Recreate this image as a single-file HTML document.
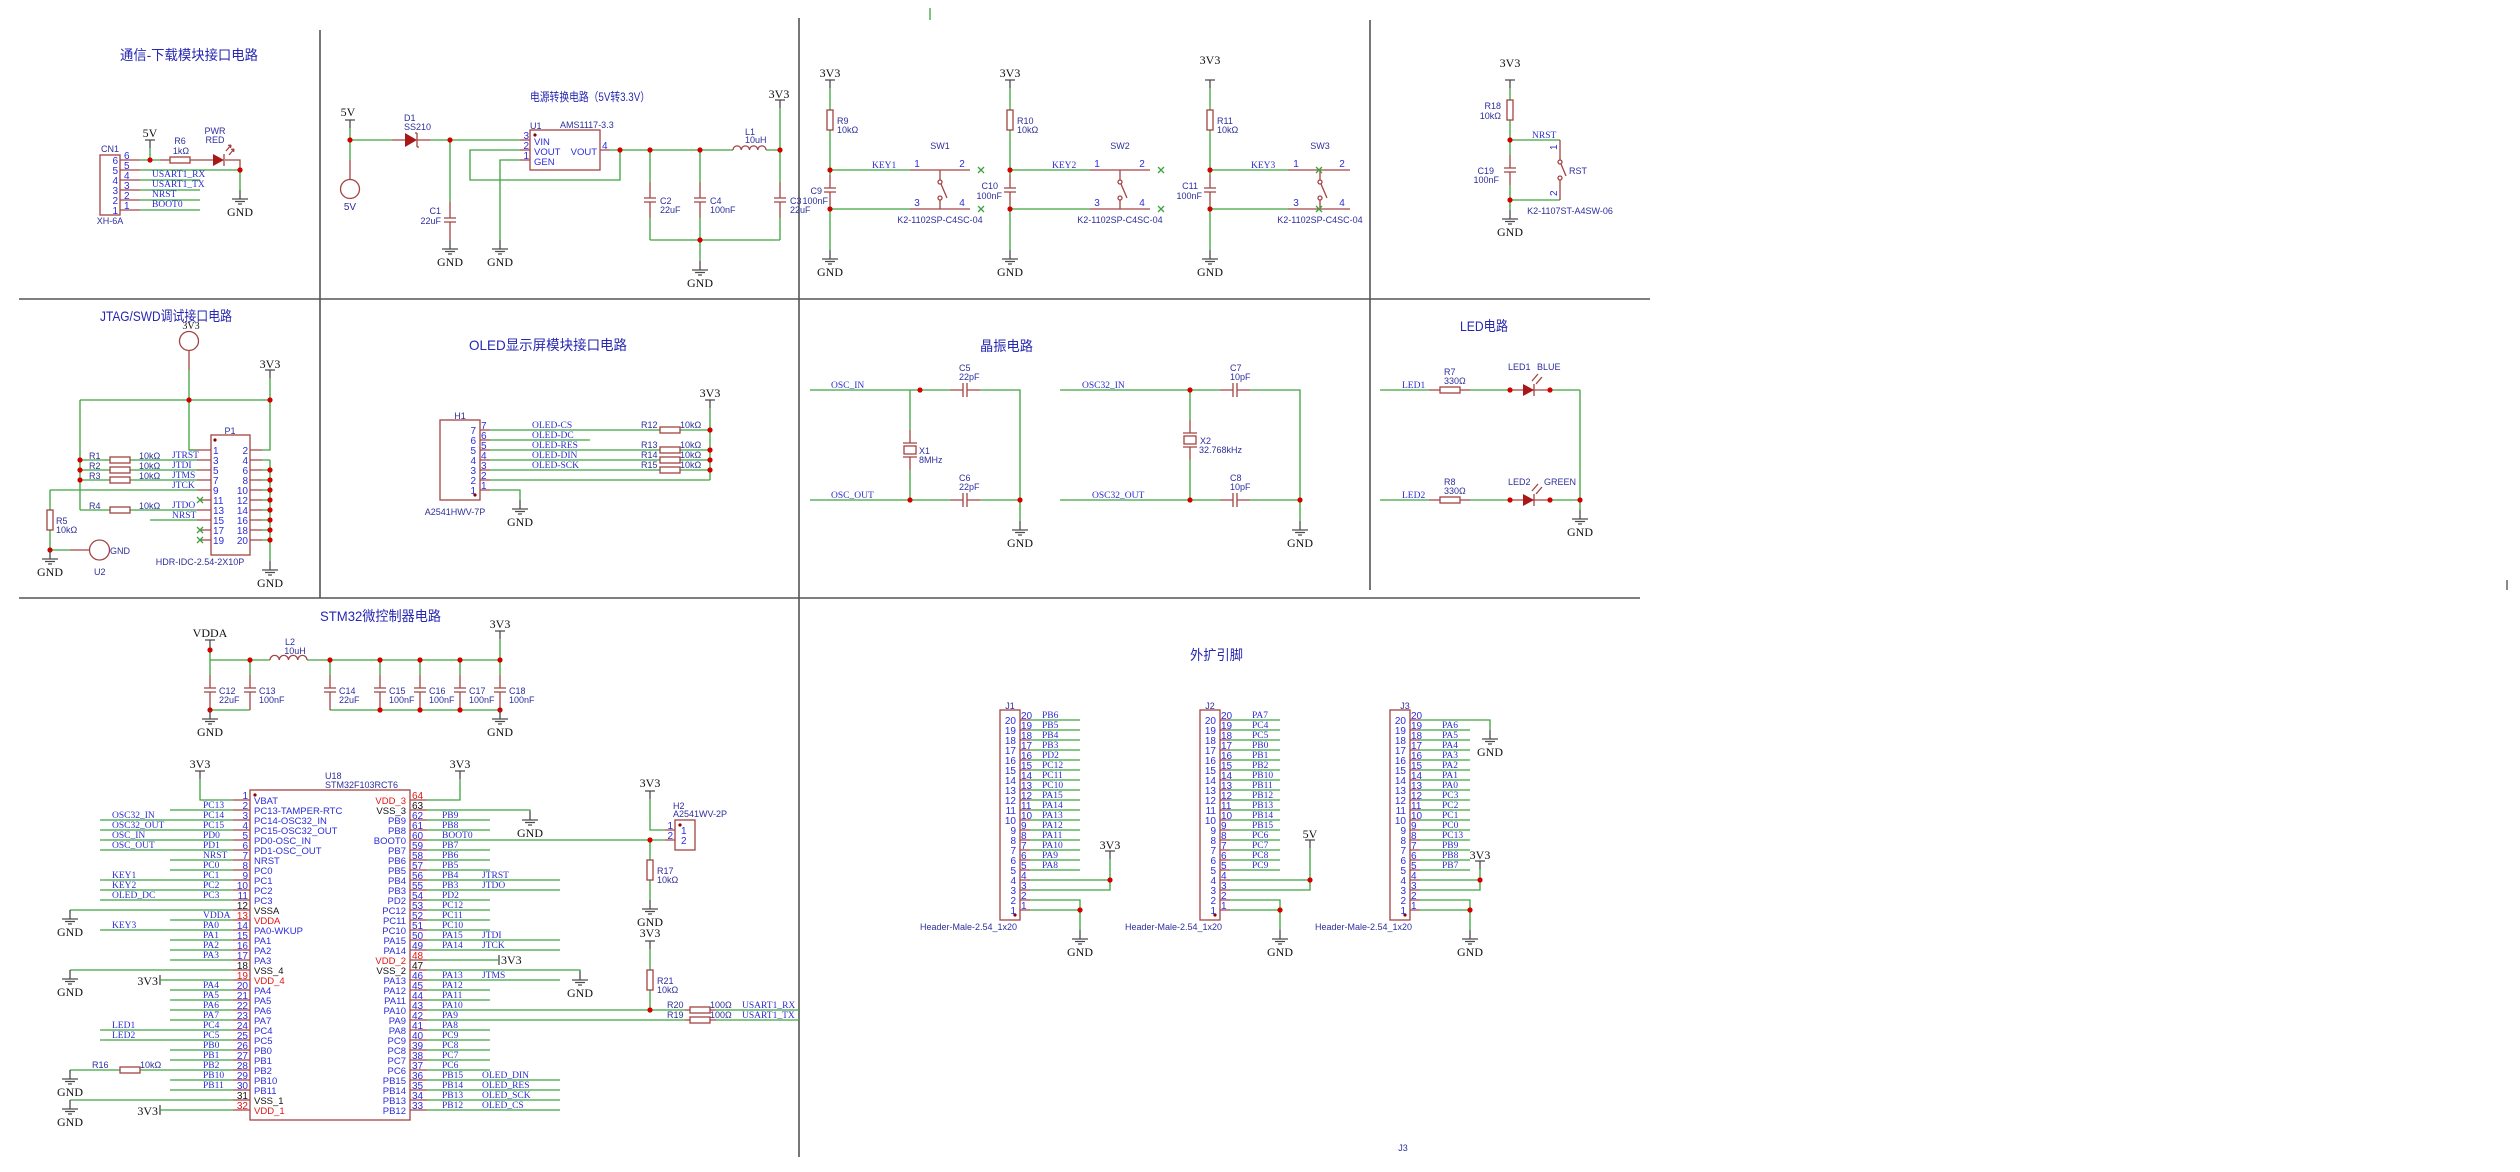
<!DOCTYPE html>
<html><head><meta charset="utf-8"><style>
html,body{margin:0;padding:0;background:#fff;}
svg{display:block}
text{font-family:"Liberation Sans","Noto Sans CJK SC",sans-serif;}
.T{font-size:14px;fill:#2727b2}
.N{font-family:"Liberation Serif",serif;font-size:9.5px;fill:#2c2cd4}
.P{font-size:10px;fill:#2c2cdc}
.C{font-size:9px;fill:#2e2e9e}
.G{font-family:"Liberation Serif",serif;font-size:12px;fill:#111}
.I{font-size:9.5px;fill:#2c2cdc}
.R{fill:#e41414}
.K{fill:#111}
.m{text-anchor:middle}.e{text-anchor:end}
.w{stroke:#3da33d;stroke-width:1.3;fill:none}
.d{stroke:#a34343;stroke-width:1.3;fill:none}
.x{stroke:#4a4a4a;stroke-width:1.3;fill:none}
.v{stroke:#555;stroke-width:1.6;fill:none}
.j{fill:#d40000}
.f{fill:#a81818}
</style></head><body>
<svg width="2520" height="1172" viewBox="0 0 2520 1172" xmlns="http://www.w3.org/2000/svg">
<defs>
<g id="G" class="x"><path d="M0 0V9M-8 9H8M-5 11.5H5M-2 14H2"/></g>
<g id="X"><path class="w" d="M-3 -3L3 3M-3 3L3 -3"/></g>
</defs>
<rect width="2520" height="1172" fill="#fff"/>

<!-- dividers -->
<path class="v" d="M320 30V598M799 18V1157M1370 20V590M19 299H1650M19 598H1640"/>
<path class="w" d="M930 8V20"/>
<path class="x" d="M2507 580V590"/>

<!-- ===== Section 1: CN1 ===== -->
<text class="T" x="120" y="60" textLength="138" lengthAdjust="spacingAndGlyphs">通信-下载模块接口电路</text>
<rect class="d" x="100" y="155" width="20" height="60"/>
<text class="C m" x="110" y="152">CN1</text>
<text class="C m" x="110" y="224">XH-6A</text>
<text class="P e" x="118" y="164">6</text><text class="P e" x="118" y="174">5</text><text class="P e" x="118" y="184">4</text><text class="P e" x="118" y="194">3</text><text class="P e" x="118" y="204">2</text><text class="P e" x="118" y="214">1</text>
<text class="P" x="124" y="159">6</text><text class="P" x="124" y="169">5</text><text class="P" x="124" y="179">4</text><text class="P" x="124" y="189">3</text><text class="P" x="124" y="199">2</text><text class="P" x="124" y="209">1</text>
<path class="d" d="M120 160H140M120 170H140M120 180H140M120 190H140M120 200H140M120 210H140M160 160H170M190 160H213M225 160H240V170"/>
<rect class="d" x="170" y="157" width="20" height="6"/>
<path class="w" d="M140 160H160M150 148V160M140 170H240M240 170V190M140 180H200M140 190H200M140 200H200M140 210H200"/>
<path class="x" d="M145 140H155M150 140V148"/>
<polygon class="f" points="213,154 213,166 224,160"/>
<path class="d" d="M224 154V166M226 151l5 -6M229 155l5 -6M231 145l-3 0.5M231 145l-0.5 3M234 149l-3 0.5M234 149l-0.5 3"/>
<circle class="j" cx="150" cy="160" r="2.6"/><circle class="j" cx="240" cy="170" r="2.6"/>
<use href="#G" x="240" y="190"/><text class="G m" x="240" y="216">GND</text>
<text class="G m" x="150" y="137">5V</text>
<text class="C m" x="180" y="144">R6</text><text class="C m" x="181" y="154">1kΩ</text>
<text class="C m" x="215" y="134">PWR</text><text class="C m" x="215" y="143">RED</text>
<text class="N" x="152" y="177">USART1_RX</text><text class="N" x="152" y="187">USART1_TX</text><text class="N" x="152" y="197">NRST</text><text class="N" x="152" y="207">BOOT0</text>

<!-- ===== Section 2: Power ===== -->
<text class="T" x="530" y="101" style="font-size:12px" textLength="120" lengthAdjust="spacingAndGlyphs">电源转换电路（5V转3.3V）</text>
<path class="x" d="M345 120H355M350 120V128"/>
<text class="G m" x="348" y="116">5V</text>
<path class="w" d="M350 128V160M350 140H392M430 140H520M450 140V202M520 150H470V180H620V150M520 160H500V240M610 150H733M766 150H780M780 108V182M780 218V240M650 150V182M650 218V240M700 150V182M700 218V240M650 240H780M700 240V261"/>
<path class="d" d="M350 160V179.5M392 140H405M417 140H430M520 140H530M520 150H530M520 160H530M600 150H610M450 202V218M444 218H456M444 222H456M450 222V240M650 182V198M644 198H656M644 202H656M650 202V218M700 182V198M694 198H706M694 202H706M700 202V218M780 182V198M774 198H786M774 202H786M780 202V218"/>
<circle class="d" cx="350" cy="189" r="9.5"/>
<text class="C m" x="350" y="210" style="font-size:10px">5V</text>
<polygon class="f" points="405,133 405,147 417,140"/>
<path class="d" d="M417 133V147M417 133h-2M417 147h2"/>
<text class="C" x="404" y="121">D1</text><text class="C" x="404" y="130">SS210</text>
<text class="C e" x="441" y="214">C1</text><text class="C e" x="441" y="224">22uF</text>
<use href="#G" x="450" y="240"/><text class="G m" x="450" y="266">GND</text>
<use href="#G" x="500" y="240"/><text class="G m" x="500" y="266">GND</text>
<rect class="d" x="530" y="130" width="70" height="40"/>
<circle cx="535" cy="135" r="1.6" fill="#8b0000"/>
<text class="C" x="530" y="129">U1</text><text class="C" x="560" y="128">AMS1117-3.3</text>
<text class="I" x="534" y="145">VIN</text><text class="I" x="534" y="155">VOUT</text><text class="I" x="534" y="165">GEN</text><text class="I e" x="597" y="155">VOUT</text>
<text class="P e" x="529" y="139">3</text><text class="P e" x="529" y="149">2</text><text class="P e" x="529" y="159">1</text><text class="P" x="602" y="149">4</text>
<path class="d" d="M733 150a4.125 4.125 0 0 1 8.25 0a4.125 4.125 0 0 1 8.25 0a4.125 4.125 0 0 1 8.25 0a4.125 4.125 0 0 1 8.25 0"/>
<text class="C" x="745" y="135">L1</text><text class="C" x="745" y="143">10uH</text>
<path class="x" d="M775 100H785M780 100V108"/>
<text class="G m" x="779" y="98">3V3</text>
<text class="C" x="660" y="204">C2</text><text class="C" x="660" y="213">22uF</text>
<text class="C" x="710" y="204">C4</text><text class="C" x="710" y="213">100nF</text>
<text class="C" x="790" y="204">C3</text><text class="C" x="790" y="213">22uF</text>
<use href="#G" x="700" y="261"/><text class="G m" x="700" y="287">GND</text>
<circle class="j" cx="350" cy="140" r="2.6"/><circle class="j" cx="450" cy="140" r="2.6"/><circle class="j" cx="620" cy="150" r="2.6"/><circle class="j" cx="650" cy="150" r="2.6"/><circle class="j" cx="700" cy="150" r="2.6"/><circle class="j" cx="780" cy="150" r="2.6"/><circle class="j" cx="700" cy="240" r="2.6"/>

<!-- ===== Section 3: Keys ===== -->
<!-- SW1 x0=830 -->
<path class="x" d="M825 80H835M830 80V88M1005 80H1015M1010 80V88M1205 80H1215M1210 80V88M1505 80H1515M1510 80V88"/>
<text class="G m" x="830" y="77">3V3</text><text class="G m" x="1010" y="77">3V3</text><text class="G m" x="1210" y="64">3V3</text><text class="G m" x="1510" y="67">3V3</text>
<path class="w" d="M830 88V110M830 130V175M830 205V250M830 170H910M830 209H910M1010 88V110M1010 130V175M1010 205V250M1010 170H1090M1010 209H1090M1210 88V110M1210 130V175M1210 205V250M1210 170H1288M1210 209H1288"/>
<path class="d" d="M830 175V188M824 188H836M824 192H836M830 192V205M910 170H970M910 209H970M1010 175V188M1004 188H1016M1004 192H1016M1010 192V205M1090 170H1150M1090 209H1150M1210 175V188M1204 188H1216M1204 192H1216M1210 192V205M1288 170H1350M1288 209H1350"/>
<rect class="d" x="827" y="110" width="6" height="20"/><rect class="d" x="1007" y="110" width="6" height="20"/><rect class="d" x="1207" y="110" width="6" height="20"/>
<!-- switches -->
<path class="d" d="M940 170V180M941 184L947 198M940 200V209M1120 170V180M1121 184L1127 198M1120 200V209M1320 170V180M1321 184L1327 198M1320 200V209"/>
<circle class="d" cx="940" cy="182" r="2"/><circle class="d" cx="940" cy="198" r="2"/>
<circle class="d" cx="1120" cy="182" r="2"/><circle class="d" cx="1120" cy="198" r="2"/>
<circle class="d" cx="1320" cy="182" r="2"/><circle class="d" cx="1320" cy="198" r="2"/>
<use href="#X" x="981" y="170"/><use href="#X" x="981" y="209"/><use href="#X" x="1161" y="170"/><use href="#X" x="1161" y="209"/><use href="#X" x="1319" y="170"/><use href="#X" x="1319" y="209"/>
<circle class="j" cx="830" cy="170" r="2.6"/><circle class="j" cx="830" cy="209" r="2.6"/><circle class="j" cx="1010" cy="170" r="2.6"/><circle class="j" cx="1010" cy="209" r="2.6"/><circle class="j" cx="1210" cy="170" r="2.6"/><circle class="j" cx="1210" cy="209" r="2.6"/>
<use href="#G" x="830" y="250"/><text class="G m" x="830" y="276">GND</text>
<use href="#G" x="1010" y="250"/><text class="G m" x="1010" y="276">GND</text>
<use href="#G" x="1210" y="250"/><text class="G m" x="1210" y="276">GND</text>
<text class="C" x="837" y="124">R9</text><text class="C" x="837" y="133">10kΩ</text>
<text class="C" x="1017" y="124">R10</text><text class="C" x="1017" y="133">10kΩ</text>
<text class="C" x="1217" y="124">R11</text><text class="C" x="1217" y="133">10kΩ</text>
<text class="C e" x="822" y="194">C9</text><text class="C e" x="828" y="204">100nF</text>
<text class="C e" x="998" y="189">C10</text><text class="C e" x="1002" y="199">100nF</text>
<text class="C e" x="1198" y="189">C11</text><text class="C e" x="1202" y="199">100nF</text>
<text class="N" x="872" y="168">KEY1</text><text class="N" x="1052" y="168">KEY2</text><text class="N" x="1251" y="168">KEY3</text>
<text class="P m" x="917" y="167">1</text><text class="P m" x="962" y="167">2</text><text class="P m" x="917" y="206">3</text><text class="P m" x="962" y="206">4</text>
<text class="P m" x="1097" y="167">1</text><text class="P m" x="1142" y="167">2</text><text class="P m" x="1097" y="206">3</text><text class="P m" x="1142" y="206">4</text>
<text class="P m" x="1296" y="167">1</text><text class="P m" x="1342" y="167">2</text><text class="P m" x="1296" y="206">3</text><text class="P m" x="1342" y="206">4</text>
<text class="C m" x="940" y="149">SW1</text><text class="C m" x="1120" y="149">SW2</text><text class="C m" x="1320" y="149">SW3</text>
<text class="C m" x="940" y="223">K2-1102SP-C4SC-04</text><text class="C m" x="1120" y="223">K2-1102SP-C4SC-04</text><text class="C m" x="1320" y="223">K2-1102SP-C4SC-04</text>
<!-- RST -->
<path class="w" d="M1510 88V100M1510 120V155M1510 185V210M1510 140H1560M1560 200H1510"/>
<path class="d" d="M1510 155V168M1504 168H1516M1504 172H1516M1510 172V185M1560 140V160M1561 164L1566 176M1560 180V200"/>
<rect class="d" x="1507" y="100" width="6" height="20"/>
<circle class="d" cx="1560" cy="162" r="2"/><circle class="d" cx="1560" cy="178" r="2"/>
<circle class="j" cx="1510" cy="140" r="2.6"/><circle class="j" cx="1510" cy="200" r="2.6"/>
<use href="#G" x="1510" y="210"/><text class="G m" x="1510" y="236">GND</text>
<text class="C e" x="1501" y="109">R18</text><text class="C e" x="1501" y="119">10kΩ</text>
<text class="C e" x="1494" y="174">C19</text><text class="C e" x="1499" y="183">100nF</text>
<text class="N" x="1532" y="138">NRST</text>
<text class="C" x="1569" y="174">RST</text>
<text class="P" transform="translate(1557,150) rotate(-90)">1</text>
<text class="P" transform="translate(1557,196) rotate(-90)">2</text>
<text class="C m" x="1570" y="214">K2-1107ST-A4SW-06</text>

<!-- ===== Section 4: JTAG ===== -->
<text class="T" x="100" y="321" textLength="132" lengthAdjust="spacingAndGlyphs">JTAG/SWD调试接口电路</text>
<circle class="d" cx="189" cy="341" r="9.5"/>
<text class="G m" x="191" y="329" style="font-size:10px">3V3</text>
<path class="d" d="M189 350.5V370M189 450H197M197 460H211M197 470H211M197 480H211M197 490H211M200 500H211M197 510H211M197 520H211M200 530H211M200 540H211M197 450H211M262 450H250M250 460H262M250 470H262M250 480H262M250 490H262M250 500H262M250 510H262M250 520H262M250 530H262M250 540H262M70 550H89.5"/>
<path class="w" d="M189 370V450H197M80 400H270M270 378V450H262M262 460H270M262 470H270M262 480H270M262 490H270M262 500H270M262 510H270M262 520H270M262 530H270M262 540H270M270 460V561M80 400V510M80 460H110M130 460H197M80 470H110M130 470H197M80 480H110M130 480H197M80 510H110M130 510H197M50 490H197M50 490V510M50 530V550M50 550H70M150 520H197"/>
<path class="x" d="M265 370H275M270 370V378"/>
<text class="G m" x="270" y="368">3V3</text>
<rect class="d" x="211" y="435" width="39" height="120"/>
<circle cx="215" cy="440" r="1.6" fill="#8b0000"/>
<text class="C m" x="230" y="434">P1</text>
<text class="P" x="213" y="454">1</text><text class="P" x="213" y="464">3</text><text class="P" x="213" y="474">5</text><text class="P" x="213" y="484">7</text><text class="P" x="213" y="494">9</text><text class="P" x="213" y="504">11</text><text class="P" x="213" y="514">13</text><text class="P" x="213" y="524">15</text><text class="P" x="213" y="534">17</text><text class="P" x="213" y="544">19</text>
<text class="P e" x="248" y="454">2</text><text class="P e" x="248" y="464">4</text><text class="P e" x="248" y="474">6</text><text class="P e" x="248" y="484">8</text><text class="P e" x="248" y="494">10</text><text class="P e" x="248" y="504">12</text><text class="P e" x="248" y="514">14</text><text class="P e" x="248" y="524">16</text><text class="P e" x="248" y="534">18</text><text class="P e" x="248" y="544">20</text>
<rect class="d" x="110" y="457" width="20" height="6"/><rect class="d" x="110" y="467" width="20" height="6"/><rect class="d" x="110" y="477" width="20" height="6"/><rect class="d" x="110" y="507" width="20" height="6"/>
<rect class="d" x="47" y="510" width="6" height="20"/>
<circle class="d" cx="99.5" cy="550" r="10"/>
<use href="#X" x="200" y="500"/><use href="#X" x="200" y="530"/><use href="#X" x="200" y="540"/>
<circle class="j" cx="189" cy="400" r="2.6"/><circle class="j" cx="270" cy="400" r="2.6"/>
<circle class="j" cx="270" cy="470" r="2.6"/><circle class="j" cx="270" cy="480" r="2.6"/><circle class="j" cx="270" cy="490" r="2.6"/><circle class="j" cx="270" cy="500" r="2.6"/><circle class="j" cx="270" cy="510" r="2.6"/><circle class="j" cx="270" cy="520" r="2.6"/><circle class="j" cx="270" cy="530" r="2.6"/><circle class="j" cx="270" cy="540" r="2.6"/>
<circle class="j" cx="80" cy="460" r="2.6"/><circle class="j" cx="80" cy="470" r="2.6"/><circle class="j" cx="80" cy="480" r="2.6"/><circle class="j" cx="50" cy="550" r="2.6"/>
<use href="#G" x="270" y="561"/><text class="G m" x="270" y="587">GND</text>
<use href="#G" x="50" y="550"/><text class="G m" x="50" y="576">GND</text>
<text class="C" x="89" y="459">R1</text><text class="C" x="89" y="469">R2</text><text class="C" x="89" y="479">R3</text><text class="C" x="89" y="509">R4</text>
<text class="C" x="139" y="459">10kΩ</text><text class="C" x="139" y="469">10kΩ</text><text class="C" x="139" y="479">10kΩ</text><text class="C" x="139" y="509">10kΩ</text>
<text class="N" x="172" y="458">JTRST</text><text class="N" x="172" y="468">JTDI</text><text class="N" x="172" y="478">JTMS</text><text class="N" x="172" y="488">JTCK</text><text class="N" x="172" y="508">JTDO</text><text class="N" x="172" y="518">NRST</text>
<text class="C" x="56" y="524">R5</text><text class="C" x="56" y="533">10kΩ</text>
<text class="C" x="110" y="554">GND</text><text class="C" x="94" y="575">U2</text>
<text class="C m" x="200" y="565">HDR-IDC-2.54-2X10P</text>

<!-- ===== Section 5: OLED ===== -->
<text class="T" x="469" y="350" textLength="158" lengthAdjust="spacingAndGlyphs">OLED显示屏模块接口电路</text>
<rect class="d" x="440" y="420" width="40" height="80"/>
<circle cx="475" cy="495" r="1.6" fill="#8b0000"/>
<text class="C m" x="460" y="419">H1</text>
<text class="P e" x="476" y="434">7</text><text class="P e" x="476" y="444">6</text><text class="P e" x="476" y="454">5</text><text class="P e" x="476" y="464">4</text><text class="P e" x="476" y="474">3</text><text class="P e" x="476" y="484">2</text><text class="P e" x="476" y="494">1</text>
<text class="P" x="481" y="429">7</text><text class="P" x="481" y="439">6</text><text class="P" x="481" y="449">5</text><text class="P" x="481" y="459">4</text><text class="P" x="481" y="469">3</text><text class="P" x="481" y="479">2</text><text class="P" x="481" y="489">1</text>
<path class="d" d="M480 430H490M480 440H490M480 450H490M480 460H490M480 470H490M480 480H490M480 490H490"/>
<path class="w" d="M490 430H660M680 430H710M490 440H590M490 450H660M680 450H710M490 460H660M680 460H710M490 470H660M680 470H710M490 480H710M490 490H520V500M710 408V480"/>
<rect class="d" x="660" y="427" width="20" height="6"/><rect class="d" x="660" y="447" width="20" height="6"/><rect class="d" x="660" y="457" width="20" height="6"/><rect class="d" x="660" y="467" width="20" height="6"/>
<path class="x" d="M705 400H715M710 400V408"/>
<text class="G m" x="710" y="397">3V3</text>
<circle class="j" cx="710" cy="430" r="2.6"/><circle class="j" cx="710" cy="450" r="2.6"/><circle class="j" cx="710" cy="460" r="2.6"/><circle class="j" cx="710" cy="470" r="2.6"/>
<use href="#G" x="520" y="500"/><text class="G m" x="520" y="526">GND</text>
<text class="N" x="532" y="428">OLED-CS</text><text class="N" x="532" y="438">OLED-DC</text><text class="N" x="532" y="448">OLED-RES</text><text class="N" x="532" y="458">OLED-DIN</text><text class="N" x="532" y="468">OLED-SCK</text>
<text class="C" x="641" y="428">R12</text><text class="C" x="680" y="428">10kΩ</text>
<text class="C" x="641" y="448">R13</text><text class="C" x="680" y="448">10kΩ</text>
<text class="C" x="641" y="458">R14</text><text class="C" x="680" y="458">10kΩ</text>
<text class="C" x="641" y="468">R15</text><text class="C" x="680" y="468">10kΩ</text>
<text class="C m" x="455" y="515">A2541HWV-7P</text>

<!-- ===== Section 6: Crystal ===== -->
<text class="T" x="980" y="351" textLength="53" lengthAdjust="spacingAndGlyphs">晶振电路</text>
<path class="w" d="M810 390H950M980 390H1020V521M810 500H950M980 500H1020M910 390V430M910 470V500M1060 390H1220M1250 390H1300V521M1060 500H1220M1250 500H1300M1190 390V420M1190 460V500"/>
<path class="d" d="M950 390H963M963 383V397M967 383V397M967 390H980M950 500H963M963 493V507M967 493V507M967 500H980M910 430V443M903 443H917M903 457H917M910 457V470M1220 390H1233M1233 383V397M1237 383V397M1237 390H1250M1220 500H1233M1233 493V507M1237 493V507M1237 500H1250M1190 420V433M1183 433H1197M1183 447H1197M1190 447V460"/>
<rect class="d" x="904" y="446" width="12" height="8"/><rect class="d" x="1184" y="436" width="12" height="8"/>
<circle class="j" cx="920" cy="390" r="2.6"/><circle class="j" cx="910" cy="500" r="2.6"/><circle class="j" cx="1020" cy="500" r="2.6"/><circle class="j" cx="1190" cy="390" r="2.6"/><circle class="j" cx="1190" cy="500" r="2.6"/><circle class="j" cx="1300" cy="500" r="2.6"/>
<use href="#G" x="1020" y="521"/><text class="G m" x="1020" y="547">GND</text>
<use href="#G" x="1300" y="521"/><text class="G m" x="1300" y="547">GND</text>
<text class="N" x="831" y="388">OSC_IN</text><text class="N" x="831" y="498">OSC_OUT</text>
<text class="N" x="1082" y="388">OSC32_IN</text><text class="N" x="1092" y="498">OSC32_OUT</text>
<text class="C" x="959" y="371">C5</text><text class="C" x="959" y="380">22pF</text>
<text class="C" x="959" y="481">C6</text><text class="C" x="959" y="490">22pF</text>
<text class="C" x="919" y="454">X1</text><text class="C" x="919" y="463">8MHz</text>
<text class="C" x="1230" y="371">C7</text><text class="C" x="1230" y="380">10pF</text>
<text class="C" x="1230" y="481">C8</text><text class="C" x="1230" y="490">10pF</text>
<text class="C" x="1200" y="444">X2</text><text class="C" x="1199" y="453">32.768kHz</text>

<!-- ===== Section 7: LED ===== -->
<text class="T" x="1460" y="331" textLength="48" lengthAdjust="spacingAndGlyphs">LED电路</text>
<path class="w" d="M1380 390H1429M1470 390H1510M1550 390H1580M1380 500H1429M1470 500H1510M1550 500H1580M1580 390V510"/>
<path class="d" d="M1429 390H1440M1460 390H1470M1510 390H1550M1429 500H1440M1460 500H1470M1510 500H1550M1534 384V396M1534 494V506M1532 381l6 -7M1536 384l6 -7M1532 491l6 -7M1536 494l6 -7"/>
<rect class="d" x="1440" y="387" width="20" height="6"/><rect class="d" x="1440" y="497" width="20" height="6"/>
<polygon class="f" points="1523,384 1523,396 1534,390"/><polygon class="f" points="1523,494 1523,506 1534,500"/>
<circle class="j" cx="1510" cy="390" r="2.6"/><circle class="j" cx="1550" cy="390" r="2.6"/><circle class="j" cx="1510" cy="500" r="2.6"/><circle class="j" cx="1550" cy="500" r="2.6"/><circle class="j" cx="1580" cy="500" r="2.6"/>
<use href="#G" x="1580" y="510"/><text class="G m" x="1580" y="536">GND</text>
<text class="N" x="1402" y="388">LED1</text><text class="N" x="1402" y="498">LED2</text>
<text class="C" x="1444" y="375">R7</text><text class="C" x="1444" y="384">330Ω</text>
<text class="C" x="1444" y="485">R8</text><text class="C" x="1444" y="494">330Ω</text>
<text class="C" x="1508" y="370">LED1</text><text class="C" x="1537" y="370">BLUE</text>
<text class="C" x="1508" y="485">LED2</text><text class="C" x="1544" y="485">GREEN</text>

<!-- ===== Section 8: STM32 ===== -->
<text class="T" x="320" y="621" textLength="121" lengthAdjust="spacingAndGlyphs">STM32微控制器电路</text>
<path class="x" d="M205 640H215M210 640V648M495 631H505M500 631V639"/>
<text class="G m" x="210" y="637">VDDA</text><text class="G m" x="500" y="628">3V3</text>
<path class="w" d="M210 648V660M210 660H270M307 660H500M500 639V660M210 660V675M250 660V675M330 660V675M380 660V675M420 660V675M460 660V675M500 660V675M210 710H250M330 710H500"/>
<path class="d" d="M270 660a4.625 4.625 0 0 1 9.25 0a4.625 4.625 0 0 1 9.25 0a4.625 4.625 0 0 1 9.25 0a4.625 4.625 0 0 1 9.25 0M210 675V688M204 688H216M204 692H216M210 692V710M250 675V688M244 688H256M244 692H256M250 692V710M330 675V688M324 688H336M324 692H336M330 692V710M380 675V688M374 688H386M374 692H386M380 692V710M420 675V688M414 688H426M414 692H426M420 692V710M460 675V688M454 688H466M454 692H466M460 692V710M500 675V688M494 688H506M494 692H506M500 692V710"/>
<circle class="j" cx="210" cy="650" r="2.6"/><circle class="j" cx="250" cy="660" r="2.6"/><circle class="j" cx="330" cy="660" r="2.6"/><circle class="j" cx="380" cy="660" r="2.6"/><circle class="j" cx="420" cy="660" r="2.6"/><circle class="j" cx="460" cy="660" r="2.6"/><circle class="j" cx="500" cy="660" r="2.6"/>
<circle class="j" cx="210" cy="710" r="2.6"/><circle class="j" cx="380" cy="710" r="2.6"/><circle class="j" cx="420" cy="710" r="2.6"/><circle class="j" cx="460" cy="710" r="2.6"/><circle class="j" cx="500" cy="710" r="2.6"/>
<use href="#G" x="210" y="710"/><text class="G m" x="210" y="736">GND</text>
<use href="#G" x="500" y="710"/><text class="G m" x="500" y="736">GND</text>
<text class="C m" x="290" y="645">L2</text><text class="C m" x="295" y="654">10uH</text>
<text class="C" x="219" y="694">C12</text><text class="C" x="219" y="703">22uF</text>
<text class="C" x="259" y="694">C13</text><text class="C" x="259" y="703">100nF</text>
<text class="C" x="339" y="694">C14</text><text class="C" x="339" y="703">22uF</text>
<text class="C" x="389" y="694">C15</text><text class="C" x="389" y="703">100nF</text>
<text class="C" x="429" y="694">C16</text><text class="C" x="429" y="703">100nF</text>
<text class="C" x="469" y="694">C17</text><text class="C" x="469" y="703">100nF</text>
<text class="C" x="509" y="694">C18</text><text class="C" x="509" y="703">100nF</text>

<!-- chip -->
<rect class="d" x="250" y="790" width="160" height="330"/>
<circle cx="255" cy="795" r="1.6" fill="#8b0000"/>
<text class="C" x="325" y="779">U18</text><text class="C" x="325" y="788">STM32F103RCT6</text>
<path class="x" d="M195 771H205M200 771V779M455 771H465M460 771V779M160 975V985M160 1105V1115M499 955V965M645 791H655M650 791V799M645 941H655M650 941V949"/>
<text class="G m" x="200" y="768">3V3</text><text class="G m" x="460" y="768">3V3</text>
<text class="G e" x="158" y="985">3V3</text><text class="G e" x="158" y="1115">3V3</text>
<text class="G" x="501" y="964">3V3</text>
<text class="G m" x="650" y="787">3V3</text><text class="G m" x="650" y="937">3V3</text>
<!-- pin stubs -->
<path class="d" d="M233 800H250M233 810H250M233 820H250M233 830H250M233 840H250M233 850H250M233 860H250M233 870H250M233 880H250M233 890H250M233 900H250M233 910H250M233 920H250M233 930H250M233 940H250M233 950H250M233 960H250M233 970H250M233 980H250M233 990H250M233 1000H250M233 1010H250M233 1020H250M233 1030H250M233 1040H250M233 1050H250M233 1060H250M233 1070H250M233 1080H250M233 1090H250M233 1100H250M233 1110H250M410 800H427M410 810H427M410 820H427M410 830H427M410 840H427M410 850H427M410 860H427M410 870H427M410 880H427M410 890H427M410 900H427M410 910H427M410 920H427M410 930H427M410 940H427M410 950H427M410 960H427M410 970H427M410 980H427M410 990H427M410 1000H427M410 1010H427M410 1020H427M410 1030H427M410 1040H427M410 1050H427M410 1060H427M410 1070H427M410 1080H427M410 1090H427M410 1100H427M410 1110H427"/>
<!-- left wires -->
<path class="w" d="M200 779V800H233M170 810H233M100 820H233M100 830H233M100 840H233M100 850H233M170 860H233M170 870H233M100 880H233M100 890H233M100 900H233M70 910H233M170 920H233M100 930H233M170 940H233M170 950H233M170 960H233M70 970H233M160 980H233M170 990H233M170 1000H233M170 1010H233M170 1020H233M100 1030H233M100 1040H233M170 1050H233M170 1060H233M70 1070H120M140 1070H233M170 1080H233M170 1090H233M70 1100H233M160 1110H233"/>
<rect class="d" x="120" y="1067" width="20" height="6"/>
<use href="#G" x="70" y="910"/><text class="G m" x="70" y="936">GND</text>
<use href="#G" x="70" y="970"/><text class="G m" x="70" y="996">GND</text>
<use href="#G" x="70" y="1070"/><text class="G m" x="70" y="1096">GND</text>
<use href="#G" x="70" y="1100"/><text class="G m" x="70" y="1126">GND</text>
<text class="C" x="92" y="1068">R16</text><text class="C" x="140" y="1068">10kΩ</text>
<!-- left pin numbers -->
<text class="P e" x="248" y="799">1</text><text class="P e" x="248" y="809">2</text><text class="P e" x="248" y="819">3</text><text class="P e" x="248" y="829">4</text><text class="P e" x="248" y="839">5</text><text class="P e" x="248" y="849">6</text><text class="P e" x="248" y="859">7</text><text class="P e" x="248" y="869">8</text><text class="P e" x="248" y="879">9</text><text class="P e" x="248" y="889">10</text><text class="P e" x="248" y="899">11</text><text class="P e K" x="248" y="909">12</text><text class="P e R" x="248" y="919">13</text><text class="P e" x="248" y="929">14</text><text class="P e" x="248" y="939">15</text><text class="P e" x="248" y="949">16</text><text class="P e" x="248" y="959">17</text><text class="P e K" x="248" y="969">18</text><text class="P e R" x="248" y="979">19</text><text class="P e" x="248" y="989">20</text><text class="P e" x="248" y="999">21</text><text class="P e" x="248" y="1009">22</text><text class="P e" x="248" y="1019">23</text><text class="P e" x="248" y="1029">24</text><text class="P e" x="248" y="1039">25</text><text class="P e" x="248" y="1049">26</text><text class="P e" x="248" y="1059">27</text><text class="P e" x="248" y="1069">28</text><text class="P e" x="248" y="1079">29</text><text class="P e" x="248" y="1089">30</text><text class="P e K" x="248" y="1099">31</text><text class="P e R" x="248" y="1109">32</text>
<!-- left pin names -->
<text class="I" x="254" y="804">VBAT</text><text class="I" x="254" y="814">PC13-TAMPER-RTC</text><text class="I" x="254" y="824">PC14-OSC32_IN</text><text class="I" x="254" y="834">PC15-OSC32_OUT</text><text class="I" x="254" y="844">PD0-OSC_IN</text><text class="I" x="254" y="854">PD1-OSC_OUT</text><text class="I" x="254" y="864">NRST</text><text class="I" x="254" y="874">PC0</text><text class="I" x="254" y="884">PC1</text><text class="I" x="254" y="894">PC2</text><text class="I" x="254" y="904">PC3</text><text class="I K" x="254" y="914">VSSA</text><text class="I R" x="254" y="924">VDDA</text><text class="I" x="254" y="934">PA0-WKUP</text><text class="I" x="254" y="944">PA1</text><text class="I" x="254" y="954">PA2</text><text class="I" x="254" y="964">PA3</text><text class="I K" x="254" y="974">VSS_4</text><text class="I R" x="254" y="984">VDD_4</text><text class="I" x="254" y="994">PA4</text><text class="I" x="254" y="1004">PA5</text><text class="I" x="254" y="1014">PA6</text><text class="I" x="254" y="1024">PA7</text><text class="I" x="254" y="1034">PC4</text><text class="I" x="254" y="1044">PC5</text><text class="I" x="254" y="1054">PB0</text><text class="I" x="254" y="1064">PB1</text><text class="I" x="254" y="1074">PB2</text><text class="I" x="254" y="1084">PB10</text><text class="I" x="254" y="1094">PB11</text><text class="I K" x="254" y="1104">VSS_1</text><text class="I R" x="254" y="1114">VDD_1</text>
<!-- right pin numbers -->
<text class="P R" x="412" y="799">64</text><text class="P K" x="412" y="809">63</text><text class="P" x="412" y="819">62</text><text class="P" x="412" y="829">61</text><text class="P" x="412" y="839">60</text><text class="P" x="412" y="849">59</text><text class="P" x="412" y="859">58</text><text class="P" x="412" y="869">57</text><text class="P" x="412" y="879">56</text><text class="P" x="412" y="889">55</text><text class="P" x="412" y="899">54</text><text class="P" x="412" y="909">53</text><text class="P" x="412" y="919">52</text><text class="P" x="412" y="929">51</text><text class="P" x="412" y="939">50</text><text class="P" x="412" y="949">49</text><text class="P R" x="412" y="959">48</text><text class="P K" x="412" y="969">47</text><text class="P" x="412" y="979">46</text><text class="P" x="412" y="989">45</text><text class="P" x="412" y="999">44</text><text class="P" x="412" y="1009">43</text><text class="P" x="412" y="1019">42</text><text class="P" x="412" y="1029">41</text><text class="P" x="412" y="1039">40</text><text class="P" x="412" y="1049">39</text><text class="P" x="412" y="1059">38</text><text class="P" x="412" y="1069">37</text><text class="P" x="412" y="1079">36</text><text class="P" x="412" y="1089">35</text><text class="P" x="412" y="1099">34</text><text class="P" x="412" y="1109">33</text>
<!-- right pin names -->
<text class="I e R" x="406" y="804">VDD_3</text><text class="I e K" x="406" y="814">VSS_3</text><text class="I e" x="406" y="824">PB9</text><text class="I e" x="406" y="834">PB8</text><text class="I e" x="406" y="844">BOOT0</text><text class="I e" x="406" y="854">PB7</text><text class="I e" x="406" y="864">PB6</text><text class="I e" x="406" y="874">PB5</text><text class="I e" x="406" y="884">PB4</text><text class="I e" x="406" y="894">PB3</text><text class="I e" x="406" y="904">PD2</text><text class="I e" x="406" y="914">PC12</text><text class="I e" x="406" y="924">PC11</text><text class="I e" x="406" y="934">PC10</text><text class="I e" x="406" y="944">PA15</text><text class="I e" x="406" y="954">PA14</text><text class="I e R" x="406" y="964">VDD_2</text><text class="I e K" x="406" y="974">VSS_2</text><text class="I e" x="406" y="984">PA13</text><text class="I e" x="406" y="994">PA12</text><text class="I e" x="406" y="1004">PA11</text><text class="I e" x="406" y="1014">PA10</text><text class="I e" x="406" y="1024">PA9</text><text class="I e" x="406" y="1034">PA8</text><text class="I e" x="406" y="1044">PC9</text><text class="I e" x="406" y="1054">PC8</text><text class="I e" x="406" y="1064">PC7</text><text class="I e" x="406" y="1074">PC6</text><text class="I e" x="406" y="1084">PB15</text><text class="I e" x="406" y="1094">PB14</text><text class="I e" x="406" y="1104">PB13</text><text class="I e" x="406" y="1114">PB12</text>
<!-- left net labels -->
<text class="N" x="203" y="808">PC13</text>
<text class="N" x="112" y="818">OSC32_IN</text><text class="N" x="203" y="818">PC14</text>
<text class="N" x="112" y="828">OSC32_OUT</text><text class="N" x="203" y="828">PC15</text>
<text class="N" x="112" y="838">OSC_IN</text><text class="N" x="203" y="838">PD0</text>
<text class="N" x="112" y="848">OSC_OUT</text><text class="N" x="203" y="848">PD1</text>
<text class="N" x="203" y="858">NRST</text><text class="N" x="203" y="868">PC0</text>
<text class="N" x="112" y="878">KEY1</text><text class="N" x="203" y="878">PC1</text>
<text class="N" x="112" y="888">KEY2</text><text class="N" x="203" y="888">PC2</text>
<text class="N" x="112" y="898">OLED_DC</text><text class="N" x="203" y="898">PC3</text>
<text class="N" x="203" y="918">VDDA</text>
<text class="N" x="112" y="928">KEY3</text><text class="N" x="203" y="928">PA0</text>
<text class="N" x="203" y="938">PA1</text><text class="N" x="203" y="948">PA2</text><text class="N" x="203" y="958">PA3</text>
<text class="N" x="203" y="988">PA4</text><text class="N" x="203" y="998">PA5</text><text class="N" x="203" y="1008">PA6</text><text class="N" x="203" y="1018">PA7</text>
<text class="N" x="112" y="1028">LED1</text><text class="N" x="203" y="1028">PC4</text>
<text class="N" x="112" y="1038">LED2</text><text class="N" x="203" y="1038">PC5</text>
<text class="N" x="203" y="1048">PB0</text><text class="N" x="203" y="1058">PB1</text><text class="N" x="203" y="1068">PB2</text>
<text class="N" x="203" y="1078">PB10</text><text class="N" x="203" y="1088">PB11</text>
<!-- right wires -->
<path class="w" d="M427 800H460V779M427 810H530V811M427 820H490M427 830H490M427 840H665M427 850H490M427 860H490M427 870H490M427 880H560M427 890H560M427 900H490M427 910H490M427 920H490M427 930H490M427 940H560M427 950H560M427 960H499M427 970H580V971M427 980H560M427 990H490M427 1000H490M427 1010H685M716 1010H800M427 1020H685M716 1020H800M427 1030H490M427 1040H490M427 1050H490M427 1060H490M427 1070H490M427 1080H560M427 1090H560M427 1100H560M427 1110H560"/>
<use href="#G" x="530" y="811"/><text class="G m" x="530" y="837">GND</text>
<use href="#G" x="580" y="971"/><text class="G m" x="580" y="997">GND</text>
<text class="N" x="442" y="818">PB9</text><text class="N" x="442" y="828">PB8</text><text class="N" x="442" y="838">BOOT0</text><text class="N" x="442" y="848">PB7</text><text class="N" x="442" y="858">PB6</text><text class="N" x="442" y="868">PB5</text><text class="N" x="442" y="878">PB4</text><text class="N" x="442" y="888">PB3</text><text class="N" x="442" y="898">PD2</text><text class="N" x="442" y="908">PC12</text><text class="N" x="442" y="918">PC11</text><text class="N" x="442" y="928">PC10</text><text class="N" x="442" y="938">PA15</text><text class="N" x="442" y="948">PA14</text><text class="N" x="442" y="978">PA13</text><text class="N" x="442" y="988">PA12</text><text class="N" x="442" y="998">PA11</text><text class="N" x="442" y="1008">PA10</text><text class="N" x="442" y="1018">PA9</text><text class="N" x="442" y="1028">PA8</text><text class="N" x="442" y="1038">PC9</text><text class="N" x="442" y="1048">PC8</text><text class="N" x="442" y="1058">PC7</text><text class="N" x="442" y="1068">PC6</text><text class="N" x="442" y="1078">PB15</text><text class="N" x="442" y="1088">PB14</text><text class="N" x="442" y="1098">PB13</text><text class="N" x="442" y="1108">PB12</text>
<text class="N" x="482" y="878">JTRST</text><text class="N" x="482" y="888">JTDO</text><text class="N" x="482" y="938">JTDI</text><text class="N" x="482" y="948">JTCK</text><text class="N" x="482" y="978">JTMS</text><text class="N" x="482" y="1078">OLED_DIN</text><text class="N" x="482" y="1088">OLED_RES</text><text class="N" x="482" y="1098">OLED_SCK</text><text class="N" x="482" y="1108">OLED_CS</text>
<!-- H2, R17, R21, R19, R20 -->
<path class="w" d="M650 799V830H665M650 840V860M650 880V900M650 949V970M650 990V1010"/>
<path class="d" d="M665 830H675M665 840H675M685 1010H690M710 1010H716M685 1020H690M710 1020H716"/>
<rect class="d" x="675" y="820" width="20" height="30"/>
<circle cx="680" cy="825" r="1.6" fill="#8b0000"/>
<rect class="d" x="647" y="860" width="6" height="20"/><rect class="d" x="647" y="970" width="6" height="20"/>
<rect class="d" x="690" y="1007" width="20" height="6"/><rect class="d" x="690" y="1017" width="20" height="6"/>
<circle class="j" cx="650" cy="840" r="2.6"/><circle class="j" cx="650" cy="1010" r="2.6"/>
<use href="#G" x="650" y="900"/><text class="G m" x="650" y="926">GND</text>
<text class="C" x="673" y="809">H2</text><text class="C" x="673" y="817">A2541WV-2P</text>
<text class="P" x="681" y="834">1</text><text class="P" x="681" y="844">2</text>
<text class="P e" x="673" y="829">1</text><text class="P e" x="673" y="839">2</text>
<text class="C" x="657" y="874">R17</text><text class="C" x="657" y="883">10kΩ</text>
<text class="C" x="657" y="984">R21</text><text class="C" x="657" y="993">10kΩ</text>
<text class="C" x="667" y="1008">R20</text><text class="C" x="710" y="1008">100Ω</text>
<text class="C" x="667" y="1018">R19</text><text class="C" x="710" y="1018">100Ω</text>
<text class="N" x="742" y="1008">USART1_RX</text><text class="N" x="742" y="1018">USART1_TX</text>

<!-- ===== Section 9: Headers ===== -->
<text class="T" x="1190" y="660" textLength="53" lengthAdjust="spacingAndGlyphs">外扩引脚</text>
<rect class="d" x="1000" y="710" width="20" height="210"/><rect class="d" x="1200" y="710" width="20" height="210"/><rect class="d" x="1390" y="710" width="20" height="210"/>
<circle cx="1015" cy="915" r="1.6" fill="#8b0000"/><circle cx="1215" cy="915" r="1.6" fill="#8b0000"/><circle cx="1405" cy="915" r="1.6" fill="#8b0000"/>
<text class="C m" x="1010" y="709">J1</text><text class="C m" x="1210" y="709">J2</text><text class="C m" x="1405" y="709">J3</text>
<text class="C m" x="1403" y="1151">J3</text>
<text class="C" x="920" y="930">Header-Male-2.54_1x20</text><text class="C" x="1125" y="930">Header-Male-2.54_1x20</text><text class="C" x="1315" y="930">Header-Male-2.54_1x20</text>
<path class="d" d="M1020 720H1030M1020 730H1030M1020 740H1030M1020 750H1030M1020 760H1030M1020 770H1030M1020 780H1030M1020 790H1030M1020 800H1030M1020 810H1030M1020 820H1030M1020 830H1030M1020 840H1030M1020 850H1030M1020 860H1030M1020 870H1030M1020 880H1030M1020 890H1030M1020 900H1030M1020 910H1030M1220 720H1230M1220 730H1230M1220 740H1230M1220 750H1230M1220 760H1230M1220 770H1230M1220 780H1230M1220 790H1230M1220 800H1230M1220 810H1230M1220 820H1230M1220 830H1230M1220 840H1230M1220 850H1230M1220 860H1230M1220 870H1230M1220 880H1230M1220 890H1230M1220 900H1230M1220 910H1230M1410 720H1420M1410 730H1420M1410 740H1420M1410 750H1420M1410 760H1420M1410 770H1420M1410 780H1420M1410 790H1420M1410 800H1420M1410 810H1420M1410 820H1420M1410 830H1420M1410 840H1420M1410 850H1420M1410 860H1420M1410 870H1420M1410 880H1420M1410 890H1420M1410 900H1420M1410 910H1420"/>
<path class="w" d="M1030 720H1080M1030 730H1080M1030 740H1080M1030 750H1080M1030 760H1080M1030 770H1080M1030 780H1080M1030 790H1080M1030 800H1080M1030 810H1080M1030 820H1080M1030 830H1080M1030 840H1080M1030 850H1080M1030 860H1080M1030 870H1080M1030 880H1110M1030 890H1110V859M1030 900H1080V930M1030 910H1080M1230 720H1280M1230 730H1280M1230 740H1280M1230 750H1280M1230 760H1280M1230 770H1280M1230 780H1280M1230 790H1280M1230 800H1280M1230 810H1280M1230 820H1280M1230 830H1280M1230 840H1280M1230 850H1280M1230 860H1280M1230 870H1280M1230 880H1310M1230 890H1310V848M1230 900H1280V930M1230 910H1280M1420 720H1490V730M1420 730H1470M1420 740H1470M1420 750H1470M1420 760H1470M1420 770H1470M1420 780H1470M1420 790H1470M1420 800H1470M1420 810H1470M1420 820H1470M1420 830H1470M1420 840H1470M1420 850H1470M1420 860H1470M1420 870H1470M1420 880H1480M1420 890H1480V869M1420 900H1470V930M1420 910H1470"/>
<path class="x" d="M1105 851H1115M1110 851V859M1305 840H1315M1310 840V848M1475 861H1485M1480 861V869"/>
<text class="G m" x="1110" y="849">3V3</text><text class="G m" x="1310" y="838">5V</text><text class="G m" x="1480" y="859">3V3</text>
<circle class="j" cx="1110" cy="880" r="2.6"/><circle class="j" cx="1080" cy="910" r="2.6"/><circle class="j" cx="1310" cy="880" r="2.6"/><circle class="j" cx="1280" cy="910" r="2.6"/><circle class="j" cx="1480" cy="880" r="2.6"/><circle class="j" cx="1470" cy="910" r="2.6"/>
<use href="#G" x="1080" y="930"/><text class="G m" x="1080" y="956">GND</text>
<use href="#G" x="1280" y="930"/><text class="G m" x="1280" y="956">GND</text>
<use href="#G" x="1470" y="930"/><text class="G m" x="1470" y="956">GND</text>
<use href="#G" x="1490" y="730"/><text class="G m" x="1490" y="756">GND</text>
<!-- J1 numbers -->
<text class="P e" x="1016" y="724">20</text><text class="P e" x="1016" y="734">19</text><text class="P e" x="1016" y="744">18</text><text class="P e" x="1016" y="754">17</text><text class="P e" x="1016" y="764">16</text><text class="P e" x="1016" y="774">15</text><text class="P e" x="1016" y="784">14</text><text class="P e" x="1016" y="794">13</text><text class="P e" x="1016" y="804">12</text><text class="P e" x="1016" y="814">11</text><text class="P e" x="1016" y="824">10</text><text class="P e" x="1016" y="834">9</text><text class="P e" x="1016" y="844">8</text><text class="P e" x="1016" y="854">7</text><text class="P e" x="1016" y="864">6</text><text class="P e" x="1016" y="874">5</text><text class="P e" x="1016" y="884">4</text><text class="P e" x="1016" y="894">3</text><text class="P e" x="1016" y="904">2</text><text class="P e" x="1016" y="914">1</text>
<text class="P" x="1021" y="719">20</text><text class="P" x="1021" y="729">19</text><text class="P" x="1021" y="739">18</text><text class="P" x="1021" y="749">17</text><text class="P" x="1021" y="759">16</text><text class="P" x="1021" y="769">15</text><text class="P" x="1021" y="779">14</text><text class="P" x="1021" y="789">13</text><text class="P" x="1021" y="799">12</text><text class="P" x="1021" y="809">11</text><text class="P" x="1021" y="819">10</text><text class="P" x="1021" y="829">9</text><text class="P" x="1021" y="839">8</text><text class="P" x="1021" y="849">7</text><text class="P" x="1021" y="859">6</text><text class="P" x="1021" y="869">5</text><text class="P" x="1021" y="879">4</text><text class="P" x="1021" y="889">3</text><text class="P" x="1021" y="899">2</text><text class="P" x="1021" y="909">1</text>
<!-- J2 numbers -->
<text class="P e" x="1216" y="724">20</text><text class="P e" x="1216" y="734">19</text><text class="P e" x="1216" y="744">18</text><text class="P e" x="1216" y="754">17</text><text class="P e" x="1216" y="764">16</text><text class="P e" x="1216" y="774">15</text><text class="P e" x="1216" y="784">14</text><text class="P e" x="1216" y="794">13</text><text class="P e" x="1216" y="804">12</text><text class="P e" x="1216" y="814">11</text><text class="P e" x="1216" y="824">10</text><text class="P e" x="1216" y="834">9</text><text class="P e" x="1216" y="844">8</text><text class="P e" x="1216" y="854">7</text><text class="P e" x="1216" y="864">6</text><text class="P e" x="1216" y="874">5</text><text class="P e" x="1216" y="884">4</text><text class="P e" x="1216" y="894">3</text><text class="P e" x="1216" y="904">2</text><text class="P e" x="1216" y="914">1</text>
<text class="P" x="1221" y="719">20</text><text class="P" x="1221" y="729">19</text><text class="P" x="1221" y="739">18</text><text class="P" x="1221" y="749">17</text><text class="P" x="1221" y="759">16</text><text class="P" x="1221" y="769">15</text><text class="P" x="1221" y="779">14</text><text class="P" x="1221" y="789">13</text><text class="P" x="1221" y="799">12</text><text class="P" x="1221" y="809">11</text><text class="P" x="1221" y="819">10</text><text class="P" x="1221" y="829">9</text><text class="P" x="1221" y="839">8</text><text class="P" x="1221" y="849">7</text><text class="P" x="1221" y="859">6</text><text class="P" x="1221" y="869">5</text><text class="P" x="1221" y="879">4</text><text class="P" x="1221" y="889">3</text><text class="P" x="1221" y="899">2</text><text class="P" x="1221" y="909">1</text>
<!-- J3 numbers -->
<text class="P e" x="1406" y="724">20</text><text class="P e" x="1406" y="734">19</text><text class="P e" x="1406" y="744">18</text><text class="P e" x="1406" y="754">17</text><text class="P e" x="1406" y="764">16</text><text class="P e" x="1406" y="774">15</text><text class="P e" x="1406" y="784">14</text><text class="P e" x="1406" y="794">13</text><text class="P e" x="1406" y="804">12</text><text class="P e" x="1406" y="814">11</text><text class="P e" x="1406" y="824">10</text><text class="P e" x="1406" y="834">9</text><text class="P e" x="1406" y="844">8</text><text class="P e" x="1406" y="854">7</text><text class="P e" x="1406" y="864">6</text><text class="P e" x="1406" y="874">5</text><text class="P e" x="1406" y="884">4</text><text class="P e" x="1406" y="894">3</text><text class="P e" x="1406" y="904">2</text><text class="P e" x="1406" y="914">1</text>
<text class="P" x="1411" y="719">20</text><text class="P" x="1411" y="729">19</text><text class="P" x="1411" y="739">18</text><text class="P" x="1411" y="749">17</text><text class="P" x="1411" y="759">16</text><text class="P" x="1411" y="769">15</text><text class="P" x="1411" y="779">14</text><text class="P" x="1411" y="789">13</text><text class="P" x="1411" y="799">12</text><text class="P" x="1411" y="809">11</text><text class="P" x="1411" y="819">10</text><text class="P" x="1411" y="829">9</text><text class="P" x="1411" y="839">8</text><text class="P" x="1411" y="849">7</text><text class="P" x="1411" y="859">6</text><text class="P" x="1411" y="869">5</text><text class="P" x="1411" y="879">4</text><text class="P" x="1411" y="889">3</text><text class="P" x="1411" y="899">2</text><text class="P" x="1411" y="909">1</text>
<!-- header net labels -->
<text class="N" x="1042" y="718">PB6</text><text class="N" x="1042" y="728">PB5</text><text class="N" x="1042" y="738">PB4</text><text class="N" x="1042" y="748">PB3</text><text class="N" x="1042" y="758">PD2</text><text class="N" x="1042" y="768">PC12</text><text class="N" x="1042" y="778">PC11</text><text class="N" x="1042" y="788">PC10</text><text class="N" x="1042" y="798">PA15</text><text class="N" x="1042" y="808">PA14</text><text class="N" x="1042" y="818">PA13</text><text class="N" x="1042" y="828">PA12</text><text class="N" x="1042" y="838">PA11</text><text class="N" x="1042" y="848">PA10</text><text class="N" x="1042" y="858">PA9</text><text class="N" x="1042" y="868">PA8</text>
<text class="N" x="1252" y="718">PA7</text><text class="N" x="1252" y="728">PC4</text><text class="N" x="1252" y="738">PC5</text><text class="N" x="1252" y="748">PB0</text><text class="N" x="1252" y="758">PB1</text><text class="N" x="1252" y="768">PB2</text><text class="N" x="1252" y="778">PB10</text><text class="N" x="1252" y="788">PB11</text><text class="N" x="1252" y="798">PB12</text><text class="N" x="1252" y="808">PB13</text><text class="N" x="1252" y="818">PB14</text><text class="N" x="1252" y="828">PB15</text><text class="N" x="1252" y="838">PC6</text><text class="N" x="1252" y="848">PC7</text><text class="N" x="1252" y="858">PC8</text><text class="N" x="1252" y="868">PC9</text>
<text class="N" x="1442" y="728">PA6</text><text class="N" x="1442" y="738">PA5</text><text class="N" x="1442" y="748">PA4</text><text class="N" x="1442" y="758">PA3</text><text class="N" x="1442" y="768">PA2</text><text class="N" x="1442" y="778">PA1</text><text class="N" x="1442" y="788">PA0</text><text class="N" x="1442" y="798">PC3</text><text class="N" x="1442" y="808">PC2</text><text class="N" x="1442" y="818">PC1</text><text class="N" x="1442" y="828">PC0</text><text class="N" x="1442" y="838">PC13</text><text class="N" x="1442" y="848">PB9</text><text class="N" x="1442" y="858">PB8</text><text class="N" x="1442" y="868">PB7</text>
</svg>
</body></html>
